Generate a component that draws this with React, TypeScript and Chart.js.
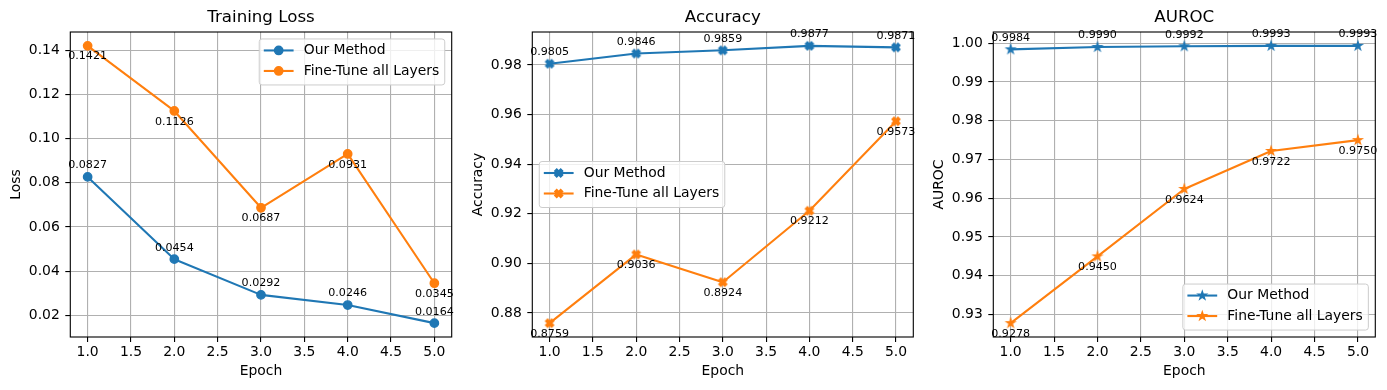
import React, { useEffect, useRef } from "react";
import { Chart, registerables } from "chart.js";

Chart.register(...registerables);

// ---------- data ----------
const epochs = [1, 2, 3, 4, 5];
const xTicks = [1.0, 1.5, 2.0, 2.5, 3.0, 3.5, 4.0, 4.5, 5.0];
const seriesNames = ["Our Method", "Fine-Tune all Layers"];

const lossOurs = [0.0827, 0.0454, 0.0292, 0.0246, 0.0164];
const lossFineTune = [0.1421, 0.1126, 0.0687, 0.0931, 0.0345];
const lossTicks = [0.02, 0.04, 0.06, 0.08, 0.1, 0.12, 0.14];

const accOurs = [0.9805, 0.9846, 0.9859, 0.9877, 0.9871];
const accFineTune = [0.8759, 0.9036, 0.8924, 0.9212, 0.9573];
const accTicks = [0.88, 0.9, 0.92, 0.94, 0.96, 0.98];

const aurocOurs = [0.9984, 0.999, 0.9992, 0.9993, 0.9993];
const aurocFineTune = [0.9278, 0.945, 0.9624, 0.9722, 0.975];
const aurocTicks = [0.93, 0.94, 0.95, 0.96, 0.97, 0.98, 0.99, 1.0];

// ---------- layout / style ----------
const W = 1387;
const H = 390;
const AXIS_BOTTOM = 337;
const Y_W = 70;
const FONT = '"DejaVu Sans", sans-serif';
const BLUE = "#1f77b4";
const ORANGE = "#ff7f0e";
const GRID = "#b0b0b0";

type MarkerKind = "circle" | "xfilled" | "star";
type Loc = "upper right" | "center left" | "lower right";

interface PanelCfg {
  title: string;
  yLabel: string;
  ours: number[];
  fine: number[];
  yTicks: number[];
  marker: MarkerKind;
  loc: Loc;
  left: number;
  right: number;
}

const panels: PanelCfg[] = [
  { title: "Training Loss", yLabel: "Loss", ours: lossOurs, fine: lossFineTune, yTicks: lossTicks, marker: "circle", loc: "upper right", left: 70.3, right: 451.7 },
  { title: "Accuracy", yLabel: "Accuracy", ours: accOurs, fine: accFineTune, yTicks: accTicks, marker: "xfilled", loc: "center left", left: 532.3, right: 913.3 },
  { title: "AUROC", yLabel: "AUROC", ours: aurocOurs, fine: aurocFineTune, yTicks: aurocTicks, marker: "star", loc: "lower right", left: 993.3, right: 1375.3 },
];

// ---------- marker drawing ----------
function traceMarker(ctx: CanvasRenderingContext2D, kind: MarkerKind, cx: number, cy: number) {
  ctx.beginPath();
  if (kind === "circle") {
    ctx.arc(cx, cy, 4.17, 0, Math.PI * 2);
  } else if (kind === "xfilled") {
    const a = 4.2;
    const b = 1.4;
    const pts = [
      [-b, -a], [b, -a], [b, -b], [a, -b], [a, b], [b, b],
      [b, a], [-b, a], [-b, b], [-a, b], [-a, -b], [-b, -b],
    ];
    const c = Math.cos(Math.PI / 4);
    const s = Math.sin(Math.PI / 4);
    pts.forEach(([px, py], i) => {
      const rx = cx + px * c - py * s;
      const ry = cy + px * s + py * c;
      if (i === 0) ctx.moveTo(rx, ry);
      else ctx.lineTo(rx, ry);
    });
  } else {
    const ro = 4.17;
    const ri = ro * 0.381966;
    for (let i = 0; i < 10; i++) {
      const r = i % 2 === 0 ? ro : ri;
      const ang = -Math.PI / 2 + (i * Math.PI) / 5;
      const px = cx + r * Math.cos(ang);
      const py = cy + r * Math.sin(ang);
      if (i === 0) ctx.moveTo(px, py);
      else ctx.lineTo(px, py);
    }
  }
  ctx.closePath();
}

function drawMarker(ctx: CanvasRenderingContext2D, kind: MarkerKind, cx: number, cy: number, color: string) {
  ctx.save();
  traceMarker(ctx, kind, cx, cy);
  ctx.fillStyle = color;
  ctx.strokeStyle = color;
  ctx.lineWidth = 1.39;
  ctx.lineJoin = "miter";
  ctx.fill();
  ctx.stroke();
  ctx.restore();
}

function markerImage(kind: MarkerKind, color: string): HTMLCanvasElement {
  const c = document.createElement("canvas");
  c.width = 14;
  c.height = 14;
  const ctx = c.getContext("2d")!;
  drawMarker(ctx, kind, 7, 7, color);
  return c;
}

// ---------- plugins ----------
const framePlugin = {
  id: "mplFrame",
  afterDatasetsDraw(chart: any) {
    const { ctx, chartArea: ca } = chart;
    ctx.save();
    ctx.strokeStyle = "#000";
    ctx.lineWidth = 1.11;
    ctx.strokeRect(ca.left, ca.top, ca.right - ca.left, ca.bottom - ca.top);
    ctx.restore();
  },
};

const annotPlugin = {
  id: "mplAnnot",
  afterDatasetsDraw(chart: any) {
    const { ctx } = chart;
    ctx.save();
    ctx.font = `11.1px ${FONT}`;
    ctx.fillStyle = "#000";
    ctx.textAlign = "center";
    ctx.textBaseline = "alphabetic";
    chart.data.datasets.forEach((ds: any, di: number) => {
      const meta = chart.getDatasetMeta(di);
      meta.data.forEach((pt: any, j: number) => {
        const v = ds.data[j].y as number;
        const y = di === 0 ? pt.y - 8.6 : pt.y + 13.6;
        ctx.fillText(v.toFixed(4), pt.x, y);
      });
    });
    ctx.restore();
  },
};

const legendPlugin = {
  id: "mplLegend",
  afterDraw(chart: any, _args: any, opts: any) {
    const { ctx, chartArea: ca } = chart;
    const fs = 13.9;
    ctx.save();
    ctx.font = `${fs}px ${FONT}`;
    const dss = chart.data.datasets;
    const tw = Math.max(...dss.map((d: any) => ctx.measureText(d.label).width));
    const pad = 0.4 * fs;
    const hl = 2 * fs;
    const htp = 0.8 * fs;
    const bap = 0.5 * fs;
    const topOff = 11.5;
    const step = 20.5;
    const botOff = 14;
    const w = 2 * pad + hl + htp + tw;
    const h = topOff + (dss.length - 1) * step + botOff;
    let x = 0;
    let y = 0;
    const loc: Loc = opts.loc;
    if (loc === "upper right") {
      x = ca.right - bap - w;
      y = ca.top + bap;
    } else if (loc === "lower right") {
      x = ca.right - bap - w;
      y = ca.bottom - bap - h;
    } else {
      x = ca.left + bap;
      y = (ca.top + ca.bottom) / 2 - h / 2;
    }
    // frame
    const r = 2.8;
    ctx.beginPath();
    ctx.moveTo(x + r, y);
    ctx.lineTo(x + w - r, y);
    ctx.quadraticCurveTo(x + w, y, x + w, y + r);
    ctx.lineTo(x + w, y + h - r);
    ctx.quadraticCurveTo(x + w, y + h, x + w - r, y + h);
    ctx.lineTo(x + r, y + h);
    ctx.quadraticCurveTo(x, y + h, x, y + h - r);
    ctx.lineTo(x, y + r);
    ctx.quadraticCurveTo(x, y, x + r, y);
    ctx.closePath();
    ctx.fillStyle = "rgba(255,255,255,0.8)";
    ctx.fill();
    ctx.strokeStyle = "#cccccc";
    ctx.lineWidth = 1;
    ctx.stroke();
    dss.forEach((d: any, i: number) => {
      const cy = y + topOff + i * step;
      ctx.beginPath();
      ctx.strokeStyle = d.borderColor;
      ctx.lineWidth = 2.08;
      ctx.lineCap = "butt";
      ctx.moveTo(x + pad - 1, cy);
      ctx.lineTo(x + pad + hl + 1, cy);
      ctx.stroke();
      drawMarker(ctx, opts.marker, x + pad + hl / 2, cy, d.borderColor);
      ctx.fillStyle = "#000";
      ctx.textAlign = "left";
      ctx.textBaseline = "middle";
      ctx.fillText(d.label, x + pad + hl + htp, cy);
    });
    ctx.restore();
  },
};

// ---------- panel ----------
function Panel({ cfg }: { cfg: PanelCfg }) {
  const ref = useRef<HTMLCanvasElement | null>(null);

  useEffect(() => {
    if (!ref.current) return;
    const all = [...cfg.ours, ...cfg.fine];
    const lo = Math.min(...all);
    const hi = Math.max(...all);
    const m = (hi - lo) * 0.05;
    const xm = (epochs[epochs.length - 1] - epochs[0]) * 0.05;

    const mk = (color: string) =>
      cfg.marker === "circle" ? "circle" : markerImage(cfg.marker, color);

    const series = [cfg.ours, cfg.fine];
    const colors = [BLUE, ORANGE];

    const chart = new Chart(ref.current, {
      type: "line",
      data: {
        datasets: series.map((vals, si) => ({
          label: seriesNames[si],
          data: epochs.map((e, i) => ({ x: e, y: vals[i] })),
          borderColor: colors[si],
          backgroundColor: colors[si],
          pointBackgroundColor: colors[si],
          pointBorderColor: colors[si],
          borderWidth: 2.08,
          borderJoinStyle: "round",
          pointStyle: mk(colors[si]) as any,
          pointRadius: 4.17,
          pointBorderWidth: 1.39,
          tension: 0,
          fill: false,
          clip: false as any,
        })),
      },
      options: {
        animation: false,
        responsive: false,
        events: [],
        layout: {
          padding: { left: cfg.left - Y_W, right: W - cfg.right, top: 0, bottom: 0 },
        },
        plugins: {
          legend: { display: false },
          tooltip: { enabled: false },
          title: {
            display: true,
            text: cfg.title,
            fullSize: false,
            color: "#000",
            font: { family: FONT, size: 16.67, weight: "normal", lineHeight: 1.2 },
            padding: { top: 8, bottom: 4 },
          },
          mplLegend: { loc: cfg.loc, marker: cfg.marker },
        } as any,
        scales: {
          x: {
            type: "linear",
            min: epochs[0] - xm,
            max: epochs[epochs.length - 1] + xm,
            afterBuildTicks: (s: any) => {
              s.ticks = xTicks.map((v) => ({ value: v }));
            },
            afterFit: (s: any) => {
              s.height = H - AXIS_BOTTOM;
            },
            grid: { color: GRID, lineWidth: 1.11, tickColor: "#000", tickLength: 5, tickWidth: 1.11 },
            border: { display: false },
            ticks: {
              color: "#000",
              font: { family: FONT, size: 13.9, lineHeight: 1.2 },
              padding: 2,
              maxRotation: 0,
              autoSkip: false,
              callback: (v: any) => Number(v).toFixed(1),
            },
            title: {
              display: true,
              text: "Epoch",
              color: "#000",
              font: { family: FONT, size: 13.9, lineHeight: 1.2 },
              padding: { top: 0, bottom: 10 },
            },
          },
          y: {
            type: "linear",
            min: lo - m,
            max: hi + m,
            afterBuildTicks: (s: any) => {
              s.ticks = cfg.yTicks.map((v) => ({ value: v }));
            },
            afterFit: (s: any) => {
              s.width = Y_W;
            },
            grid: { color: GRID, lineWidth: 1.11, tickColor: "#000", tickLength: 5, tickWidth: 1.11 },
            border: { display: false },
            ticks: {
              color: "#000",
              font: { family: FONT, size: 13.9, lineHeight: 1.2 },
              padding: 5.5,
              autoSkip: false,
              callback: (v: any) => Number(v).toFixed(2),
            },
            title: {
              display: true,
              text: cfg.yLabel,
              color: "#000",
              font: { family: FONT, size: 13.9, lineHeight: 1.2 },
              padding: { top: 8, bottom: 0 },
            },
          },
        },
      } as any,
      plugins: [framePlugin, annotPlugin, legendPlugin],
    });
    return () => chart.destroy();
  }, [cfg]);

  return (
    <canvas
      ref={ref}
      width={W}
      height={H}
      style={{ position: "absolute", left: 0, top: 0, width: W, height: H }}
    />
  );
}

export default function App() {
  return (
    <div style={{ position: "fixed", left: 0, top: 0, width: W, height: H, background: "#fff" }}>
      {panels.map((p) => (
        <Panel key={p.title} cfg={p} />
      ))}
    </div>
  );
}
